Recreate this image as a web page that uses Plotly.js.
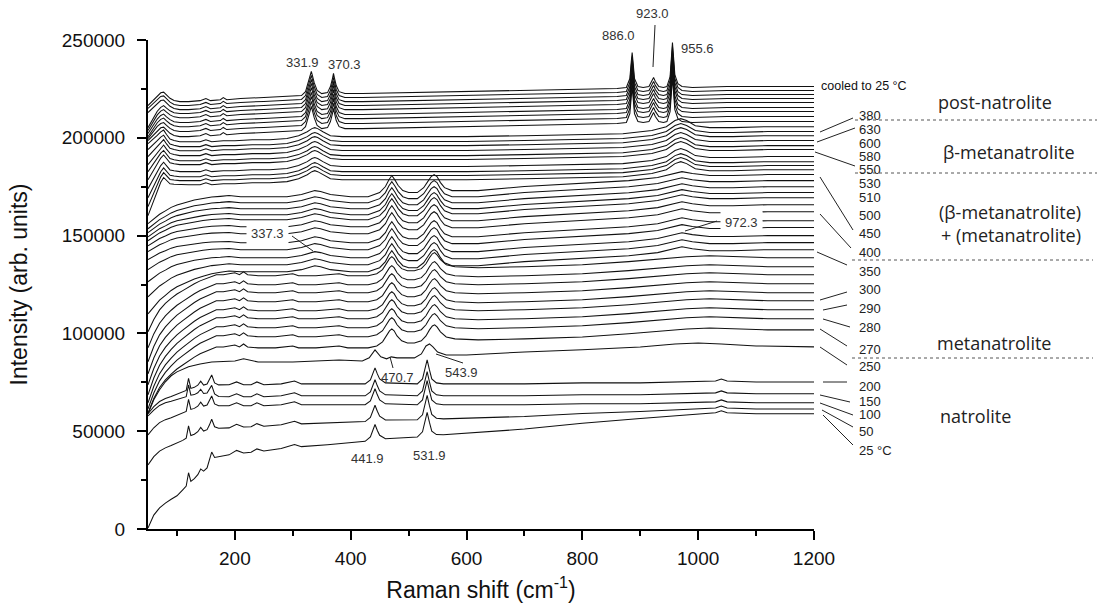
<!DOCTYPE html>
<html><head><meta charset="utf-8">
<script src="https://cdn.plot.ly/plotly-3.0.1.min.js"></script>
<style>html,body{margin:0;padding:0;background:#fff}#chart{width:1098px;height:611px}</style>
</head><body><div id="chart"></div>
<script>
// ---- phase templates: Raman shift grid (cm-1) and intensity relative to the value at 1200 cm-1 ----
const NAT_X = [50,60,70,80,90,100,110,116,120,124,130,136,141,146,152,156,160,165,172,190,203,215,228,238,250,280,303,315,360,400,425,434,438,442,446,450,460,515,524,528,532,536,540,548,560,700,800,900,1000,1030,1040,1050,1100,1200];
const NAT_T = [-15900,-12300,-9700,-8200,-7200,-6100,-5100,-4100,2000,-3100,-2600,-1500,500,-1500,-1000,1000,3600,-500,-1500,-1500,0,-1500,-1500,0,-1500,-1000,500,-1000,-1000,-1000,-1000,1000,4100,7200,4100,1500,-500,-1000,1500,6100,11300,6100,1500,-500,-1000,-1000,-500,-500,0,500,1500,500,0,0];
const NAT_W = [1,.87,.82,.78,.74,.71,.62,.58,.55,.52,.48,.44,.4,.36,.31,.24,.16,.1,.04];
const NAT_S = [1,1,1,1,1,1,1,1,1,1,1,1,1,1,1,1,1,1,1,1,.96,.95,.93,.92,.9,.86,.83,.81,.76,.7,.67,.66,.66,.65,.65,.64,.63,.56,.55,.55,.54,.54,.53,.52,.5,.35,.22,.1,0,0,0,0,0,0];

const TRANS_X = [50,60,70,80,90,100,120,140,160,200,215,240,300,380,420,432,442,452,462,470,480,510,522,530,536,542,550,565,600,700,800,900,960,1000,1040,1100,1200];
const TRANS_T = [-34300,-27100,-22000,-17900,-14800,-12800,-10200,-8700,-7700,-7200,-6100,-7700,-7700,-6700,-7200,-5600,-1500,-5100,-6100,-5100,-5600,-5600,-3600,500,1500,0,-2600,-4100,-4100,-2600,-1500,0,1500,2000,1500,500,0];
const TRANS_W = [1,.78,.62,.5,.4,.32,.19,.09,.02];

const META_X = [50,60,70,80,90,100,110,120,130,140,150,160,168,180,200,208,215,222,240,270,300,310,340,380,395,430,445,455,462,467,471,475,480,488,498,510,522,530,536,541,545,549,555,565,580,620,700,800,880,940,980,1020,1060,1120,1200];
const META_T = [-48600,-39900,-33300,-28700,-25100,-22000,-19500,-16900,-14800,-12800,-11300,-9700,-8700,-8700,-7700,-8700,-7200,-8700,-9200,-9200,-8200,-9200,-9200,-8200,-9200,-9200,-8200,-6100,-3100,-500,500,-500,-3100,-5600,-6700,-6700,-5600,-3100,0,2000,2600,1500,-1000,-3600,-4600,-5100,-4600,-3600,-2000,-500,500,1000,500,0,0];
const META_W = [1,.78,.62,.5,.4,.32,.25,.19,.14,.09,.05,.02];

const MIX_X = [50,60,70,80,90,100,115,130,145,160,175,190,210,250,290,315,330,338,348,365,400,430,450,460,466,471,476,482,490,500,515,526,533,539,544,549,555,562,575,620,700,800,880,930,955,972,990,1020,1060,1120,1200];
const MIX_T = [-28200,-25100,-22500,-20500,-18400,-16900,-15400,-13800,-12800,-11800,-11300,-10800,-11300,-11300,-11300,-10200,-8700,-8200,-8700,-10200,-11300,-11300,-9200,-6100,-2600,-500,-2600,-5600,-8200,-9200,-9200,-6700,-3600,-1000,0,-1000,-4100,-6700,-8200,-8200,-6100,-4600,-3100,-1500,500,1500,500,-500,-500,0,0];
const MIX_W = [1,.85,.72,.62,.53,.45,.35,.26,.18,.11,.05,.02];

const BETA_X = [50,60,66,72,77,82,88,95,105,120,140,150,160,180,200,230,260,290,310,325,333,338,343,352,365,385,420,540,600,700,800,870,920,945,960,970,980,995,1020,1060,1120,1200];
const BETA_T = [-14300,-9700,-6700,-4100,-2600,-4600,-6700,-7200,-7700,-7700,-7700,-6700,-7700,-7200,-7200,-6700,-6700,-6100,-4600,-2600,-1000,-500,-1000,-2600,-4600,-5100,-5100,-5100,-5100,-4600,-4100,-3600,-2000,0,3100,4100,3100,500,-500,-500,0,0];
const BETA_W = [1,.6,.4,.25,.15,.1,.06,.03];

const POST_X = [50,60,66,72,77,82,88,95,105,120,140,150,158,175,180,186,210,250,290,315,322,327,330.5,332,333.5,337,342,350,360,365,368.5,370.3,371.8,375,380,390,420,500,600,700,800,860,876,882,884.5,886,887.5,890,896,905,915,920,923,926,932,940,946,951.5,953.8,955.6,957.4,959.7,965,972,990,1050,1200];
const POST_T = [-11300,-7700,-5100,-3600,-3100,-4600,-6100,-7200,-7700,-7700,-7200,-6100,-7200,-6700,-5600,-6700,-6100,-5600,-5100,-4600,-2600,2000,6100,7700,6100,2000,-2000,-3600,-3100,0,4100,6700,4600,500,-2600,-3600,-3600,-3100,-2600,-2000,-1500,-1000,-500,4100,12800,17400,12800,4100,0,-500,0,2600,4600,2600,0,-500,0,5100,15400,22500,15400,6100,1500,0,-500,0,0];
const POST_W = [1,.6,.4,.25,.15,.1,.06,.03];

// ---- spectra, bottom to top: phase, intensity at 1200 cm-1, intensity at 50 cm-1, baseline tilt ----
const SPEC_PHASE = ['nat','nat','nat','nat','nat','trans',
  'meta','meta','meta','meta','meta','meta','meta','meta','meta',
  'mix','mix','mix','mix','mix','mix','mix','mix','mix','mix','mix','mix',
  'beta','beta','beta','beta','beta','beta','beta','beta','beta','beta',
  'post','post','post','post','post','post','post','post','post'];
const SPEC_END = [58900,61400,64500,69100,75200,93100,
  101800,107500,112100,116700,120800,125400,130000,134100,138700,
  142800,146400,150000,154100,157600,162200,165800,169400,172000,175000,178100,181200,
  183700,185800,187800,190400,194000,196000,198600,201100,203200,205700,
  208300,210900,213400,215500,218000,220100,222100,224200,226200];
const SPEC_START = [500,32800,48100,57800,58900,58900,
  59400,61400,64500,68600,73700,79300,85500,92600,100800,
  110000,118700,126400,132600,137700,141800,144800,147400,149400,151500,153500,156100,
  160200,164800,169400,174000,178600,182700,186300,190400,194000,197000,
  198600,199600,200600,202200,203700,205200,212900,215000,216500];
const SPEC_TILT = [-19500,-8200,0,0,0];
const SPEC_LABEL = ['25 °C','50','100','150','200','250','270','280','290','300','','','','','',
  '350','','','','','400','','','','','','450','','','','','550','','630','','380','',
  '','','','','','','','','cooled to 25 °C'];

const PHASES = {
  nat:{x:NAT_X,t:NAT_T,w:NAT_W,s:NAT_S}, trans:{x:TRANS_X,t:TRANS_T,w:TRANS_W},
  meta:{x:META_X,t:META_T,w:META_W}, mix:{x:MIX_X,t:MIX_T,w:MIX_W},
  beta:{x:BETA_X,t:BETA_T,w:BETA_W}, post:{x:POST_X,t:POST_T,w:POST_W}
};

const traces = [];
for (let i = 0; i < SPEC_END.length; i++) {
  const p = PHASES[SPEC_PHASE[i]];
  const e = SPEC_END[i], s0 = SPEC_START[i], tl = SPEC_TILT[i] || 0;
  const sw = k => (p.s ? p.s[k] : 0);
  const ww = k => (k < p.w.length ? p.w[k] : 0);
  const d = s0 - e - p.t[0] - tl * sw(0);
  const y = p.x.map((_, k) => e + p.t[k] + tl * sw(k) + d * ww(k));
  traces.push({type:'scatter', mode:'lines', x:p.x, y:y, name:SPEC_LABEL[i] || ('spectrum ' + (i+1)),
    line:{color:'#111', width:1.05}, hoverinfo:'skip', showlegend:false});
}

// ---- layout helpers (pixel -> paper) ----
const L = 148, R = 814, T = 40, B = 529;
const PX = v => (v - L) / (R - L);
const PY = v => (B - v) / (B - T);
const FONT = 'Liberation Sans, Arial, sans-serif';

const PEAK_LABELS = [['331.9',302,62],['370.3',344,64],['886.0',618,36],['923.0',652,13],['955.6',697,48],
  ['470.7',397,377],['543.9',461,372],['441.9',367,458],['531.9',429,455]];
const BOXED_LABELS = [['337.3',267,234],['972.3',741,222]];
const TEMP_LABELS = [['380',115],['630',129],['600',143],['580',157],['550',169],['530',183],['510',198],['500',215],
  ['450',233],['400',252],['350',271],['300',289],['290',308],['280',328],['270',349],['250',366],['200',386],
  ['150',401],['100',414],['50',431],['25 °C',450]];
const PHASE_LABELS = [['post-natrolite',995,102],['β-metanatrolite',1009,152],['(β-metanatrolite)',1010,212],
  ['+ (metanatrolite)',1011,235],['metanatrolite',994,343],['natrolite',975,416]];
const LEADERS = [[820,132,853,118],[817,142,855,128],[815,152,855,166],[820,177,853,230],[820,214,851,248],
  [817,252,847,265],[820,300,847,292],[823,310,847,305],[823,319,850,327],[820,329,847,346],[820,347,847,365],
  [823,382,847,382],[820,395,850,402],[820,403,853,415],[822,410,853,427],[823,415,853,445],
  [655,25,653,67],[292,236,313,251],[717,221,685,231],[390,357,393,368],[436,354,463,363]];
const DASHES = [[855,1097,120],[855,1097,173],[852,1093,260],[852,1093,358]];

const annotations = [];
PEAK_LABELS.forEach(a => annotations.push({xref:'paper',yref:'paper',x:PX(a[1]),y:PY(a[2]),text:a[0],showarrow:false,
  xanchor:'center',yanchor:'middle',font:{family:FONT,size:13,color:'#333'}}));
BOXED_LABELS.forEach(a => annotations.push({xref:'paper',yref:'paper',x:PX(a[1]),y:PY(a[2]),text:a[0],showarrow:false,
  xanchor:'center',yanchor:'middle',bgcolor:'#fff',borderpad:4,font:{family:FONT,size:13,color:'#333'}}));
TEMP_LABELS.forEach(a => annotations.push({xref:'paper',yref:'paper',x:PX(857),y:PY(a[1]),text:a[0],showarrow:false,
  xanchor:'left',yanchor:'middle',font:{family:FONT,size:13,color:'#222'}}));
annotations.push({xref:'paper',yref:'paper',x:PX(819),y:PY(86),text:'cooled to 25 °C',showarrow:false,
  xanchor:'left',yanchor:'middle',font:{family:FONT,size:12.5,color:'#111'}});
PHASE_LABELS.forEach(a => annotations.push({xref:'paper',yref:'paper',x:PX(a[1]),y:PY(a[2]),text:a[0],showarrow:false,
  xanchor:'center',yanchor:'middle',font:{family:'Open Sans, Noto Sans, sans-serif',size:18,color:'#222'}}));

const shapes = [];
LEADERS.forEach(s => shapes.push({type:'line',xref:'paper',yref:'paper',x0:PX(s[0]),y0:PY(s[1]),x1:PX(s[2]),y1:PY(s[3]),
  line:{color:'#222',width:1}}));
DASHES.forEach(s => shapes.push({type:'line',xref:'paper',yref:'paper',x0:PX(s[0]),x1:PX(s[1]),y0:PY(s[2]),y1:PY(s[2]),
  line:{color:'#555',width:1,dash:'dot'}}));

const axisCommon = {showgrid:false, zeroline:false, showline:true, linecolor:'#000', linewidth:2,
  ticks:'outside', ticklen:9, tickwidth:2, tickcolor:'#000', tickfont:{family:FONT,size:19,color:'#111'}};

const layout = {
  width:1098, height:611, margin:{l:L, r:1098-R, t:T, b:611-B},
  paper_bgcolor:'#fff', plot_bgcolor:'#fff', showlegend:false, hovermode:false,
  xaxis: Object.assign({}, axisCommon, {range:[50,1200], tickvals:[200,400,600,800,1000,1200],
    ticklabelstandoff:2,
    minor:{tickvals:[100,300,500,700,900,1100], ticks:'outside', ticklen:5, tickwidth:2, tickcolor:'#000'},
    title:{text:'Raman shift (cm<sup>-1</sup>)', font:{family:FONT,size:23,color:'#111'}, standoff:14}}),
  yaxis: Object.assign({}, axisCommon, {range:[0,250000], tickvals:[0,50000,100000,150000,200000,250000],
    tickformat:'d', ticklabelstandoff:8,
    minor:{tickvals:[25000,75000,125000,175000,225000], ticks:'outside', ticklen:5, tickwidth:2, tickcolor:'#000'},
    title:{text:'Intensity (arb. units)', font:{family:FONT,size:23,color:'#111'}, standoff:28}}),
  annotations:annotations, shapes:shapes
};

Plotly.newPlot('chart', traces, layout, {displayModeBar:false, staticPlot:true});
</script></body></html>
